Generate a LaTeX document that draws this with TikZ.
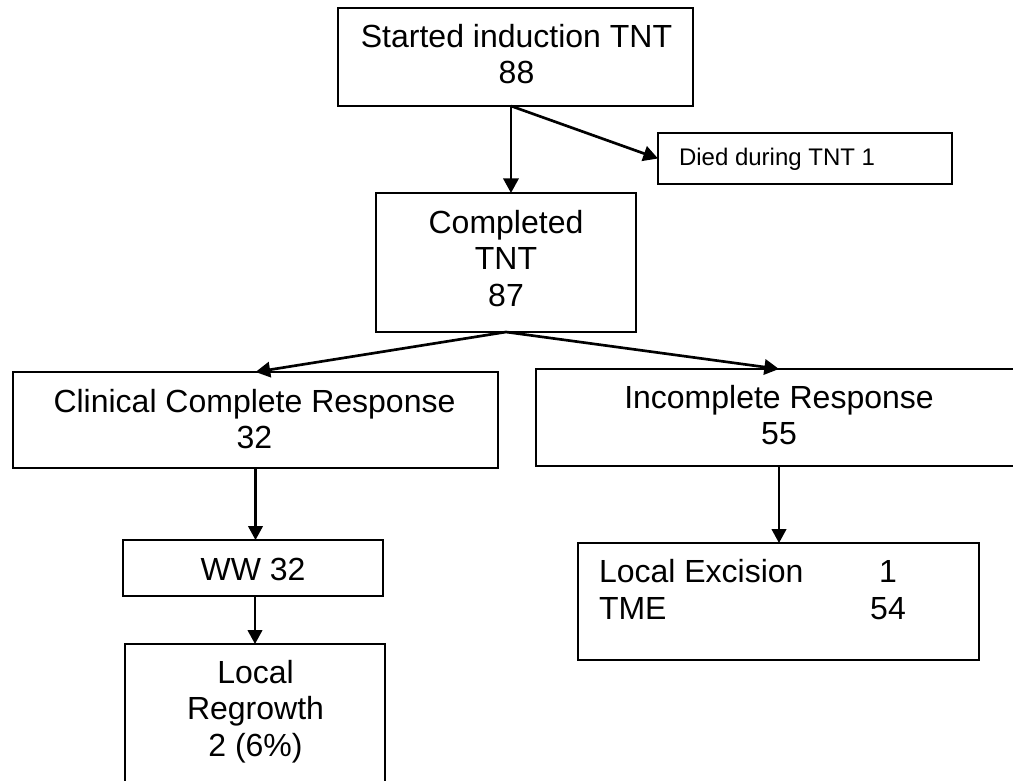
\documentclass[tikz,border=0pt]{standalone}
\usepackage{fontspec}
\setmainfont{Liberation Sans}
\usetikzlibrary{arrows.meta}
\tikzset{
  box/.style={draw=black, line width=1.6pt, rectangle, inner sep=0pt, outer sep=0pt},
  txt/.style={inner sep=0pt, outer sep=0pt, align=center, font=\fontsize{24}{27.5}\selectfont},
  smalltxt/.style={inner sep=0pt, outer sep=0pt, font=\fontsize{18}{21}\selectfont},
  arr/.style={line width=1.6pt, -{Triangle[length=10.5pt,width=11pt]}},
  thickarr/.style={line width=2pt, -{Triangle[length=11pt,width=11.5pt]}}
}
\begin{document}
\begin{tikzpicture}[x=0.75pt,y=-0.75pt]
\clip (0,0) rectangle (1013,781);
\fill[white] (0,0) rectangle (1013,781);
% boxes
\node[box, minimum width=266.25pt, minimum height=73.5pt] (s) at (515.5,57) {};
\node[box, minimum width=220.5pt, minimum height=38.25pt] (d) at (805,158.5) {};
\node[box, minimum width=195pt, minimum height=104.25pt] (c) at (506,262.5) {};
\node[box, minimum width=363.75pt, minimum height=72pt] (l) at (255.5,420) {};
\node[box, minimum width=364.5pt, minimum height=72.75pt] (ir) at (779,417.5) {};
\node[box, minimum width=195pt, minimum height=42pt] (ww) at (253,568) {};
\node[box, minimum width=300.75pt, minimum height=87.75pt] (le) at (778.5,601.5) {};
\node[box, minimum width=195pt, minimum height=132pt] (lr) at (255,732) {};
% texts
\node[txt, anchor=north] (st) at (516.5,24) {Started induction TNT\\88};
\node[smalltxt, anchor=base west] (dt) at (679,166) {Died during TNT 1};
\node[txt, anchor=north] (ct) at (506,210) {Completed\\TNT\\87};
\node[txt, anchor=north] (lt) at (254.5,389) {Clinical Complete Response\\32};
\node[txt, anchor=north] (irt) at (779,385) {Incomplete Response\\55};
\node[txt, anchor=base] (wwt) at (253,580) {WW 32};
\node[txt, anchor=north] (lrt) at (255.5,660) {Local\\Regrowth\\2 (6\%)};
\node[txt, anchor=north west, align=left] (let) at (599,557)
  {\begin{tabular}{@{}l@{\hspace{50pt}}c@{}}Local Excision & 1\\ TME & 54\end{tabular}};
% connectors
\draw[thickarr] ([xshift=-3.4pt]s.south) -- ([xshift=-3.4pt]s.south |- c.north);
\draw[thickarr] ([xshift=-3.4pt]s.south) -- (d.west);
\draw[thickarr] (c.south) -- (l.north);
\draw[thickarr] (c.south) -- (ir.north);
\draw[arr] (l.south) -- (l.south |- ww.north);
\draw[arr] (lr.north |- ww.south) -- (lr.north);
\draw[arr] (ir.south) -- (ir.south |- le.north);
\end{tikzpicture}
\end{document}
